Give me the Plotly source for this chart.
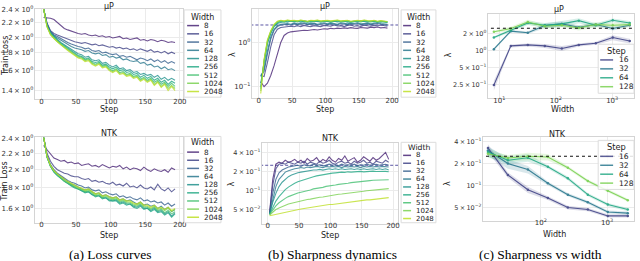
import plotly.graph_objects as go

W, H = 640, 261

# ---------------- data ----------------
STEPS = list(range(3, 198, 5))          # 3, 8, ..., 193
WIDTHS = [8, 16, 32, 64, 128, 256, 512, 1024, 2048]
WIDTH_LABELS = [str(w) for w in WIDTHS]
SWEEP_WIDTHS_MUP = [8, 16, 32, 64, 128, 256, 512, 1024, 2048]
SWEEP_WIDTHS_NTK = [16, 32, 64, 128, 256, 512, 1024, 2048]
STEP_LABELS = ["16", "32", "64", "128"]
REF_MUP = 2.5
REF_NTK = 0.25

LOSS_MUP = [
    [2.28, 2.28, 2.27, 2.25, 2.21, 2.16, 2.12, 2.10, 2.08, 2.06, 2.05, 2.04, 2.05, 2.03, 2.02, 2.03, 2.01, 2.02, 2.00, 2.01,
     1.99, 2.00, 2.01, 1.98, 1.99, 1.97, 1.98, 1.99, 1.96, 1.97, 1.95, 1.97, 1.96, 1.94, 1.96, 1.95, 1.93, 1.94, 1.93],
    [2.42, 2.20, 2.09, 2.05, 2.03, 2.01, 1.99, 1.97, 1.95, 1.94, 1.93, 1.92, 1.93, 1.91, 1.90, 1.91, 1.89, 1.90, 1.88, 1.87,
     1.88, 1.86, 1.87, 1.85, 1.86, 1.84, 1.85, 1.83, 1.85, 1.83, 1.82, 1.84, 1.81, 1.82, 1.80, 1.82, 1.79, 1.81, 1.79],
    [2.42, 2.19, 2.08, 2.03, 2.01, 1.98, 1.96, 1.93, 1.91, 1.89, 1.88, 1.87, 1.85, 1.86, 1.83, 1.82, 1.83, 1.80, 1.81, 1.79,
     1.78, 1.79, 1.76, 1.77, 1.75, 1.76, 1.74, 1.72, 1.74, 1.73, 1.71, 1.73, 1.70, 1.72, 1.69, 1.71, 1.68, 1.70, 1.68],
    [2.42, 2.18, 2.07, 2.02, 1.99, 1.96, 1.93, 1.90, 1.88, 1.86, 1.85, 1.84, 1.82, 1.83, 1.80, 1.79, 1.80, 1.77, 1.78, 1.75,
     1.76, 1.74, 1.75, 1.72, 1.73, 1.71, 1.70, 1.71, 1.68, 1.69, 1.66, 1.67, 1.64, 1.65, 1.62, 1.64, 1.61, 1.62, 1.60],
    [2.42, 2.17, 2.06, 2.01, 1.97, 1.93, 1.90, 1.87, 1.84, 1.82, 1.79, 1.78, 1.75, 1.76, 1.72, 1.71, 1.72, 1.68, 1.69, 1.66,
     1.64, 1.66, 1.62, 1.63, 1.60, 1.61, 1.58, 1.59, 1.56, 1.57, 1.55, 1.56, 1.53, 1.55, 1.51, 1.53, 1.50, 1.52, 1.50],
    [2.42, 2.16, 2.05, 2.00, 1.96, 1.92, 1.89, 1.86, 1.83, 1.80, 1.77, 1.76, 1.73, 1.74, 1.70, 1.69, 1.70, 1.66, 1.67, 1.64,
     1.62, 1.64, 1.60, 1.61, 1.58, 1.59, 1.56, 1.57, 1.53, 1.55, 1.52, 1.54, 1.50, 1.52, 1.48, 1.50, 1.46, 1.49, 1.47],
    [2.42, 2.15, 2.04, 1.99, 1.95, 1.91, 1.88, 1.85, 1.82, 1.79, 1.76, 1.75, 1.72, 1.73, 1.69, 1.67, 1.69, 1.65, 1.66, 1.62,
     1.60, 1.62, 1.58, 1.59, 1.56, 1.57, 1.54, 1.55, 1.51, 1.53, 1.50, 1.52, 1.48, 1.50, 1.46, 1.48, 1.44, 1.47, 1.44],
    [2.42, 2.15, 2.04, 1.98, 1.94, 1.90, 1.87, 1.84, 1.81, 1.78, 1.75, 1.74, 1.71, 1.72, 1.68, 1.66, 1.68, 1.64, 1.65, 1.61,
     1.59, 1.61, 1.57, 1.58, 1.55, 1.56, 1.53, 1.54, 1.50, 1.52, 1.49, 1.51, 1.46, 1.49, 1.44, 1.47, 1.42, 1.45, 1.42],
    [2.42, 2.14, 2.03, 1.98, 1.94, 1.90, 1.86, 1.83, 1.80, 1.77, 1.74, 1.73, 1.70, 1.71, 1.67, 1.65, 1.67, 1.63, 1.64, 1.60,
     1.58, 1.60, 1.56, 1.57, 1.54, 1.55, 1.52, 1.53, 1.49, 1.51, 1.48, 1.50, 1.45, 1.48, 1.43, 1.46, 1.40, 1.44, 1.40],
]

LOSS_NTK = [
    [2.30, 2.25, 2.19, 2.14, 2.12, 2.10, 2.11, 2.08, 2.09, 2.07, 2.08, 2.05, 2.06, 2.07, 2.04, 2.05, 2.03, 2.06, 2.04, 2.02,
     2.04, 2.03, 2.05, 2.01, 2.03, 2.00, 2.02, 2.01, 1.99, 2.03, 2.00, 1.98, 2.01, 1.99, 1.98, 2.00, 1.97, 2.02, 2.00],
    [2.42, 2.20, 2.10, 2.04, 2.00, 1.98, 1.96, 1.95, 1.93, 1.92, 1.92, 1.90, 1.89, 1.90, 1.87, 1.88, 1.86, 1.87, 1.85, 1.84,
     1.86, 1.83, 1.84, 1.82, 1.85, 1.81, 1.82, 1.80, 1.83, 1.80, 1.79, 1.81, 1.78, 1.84, 1.79, 1.77, 1.80, 1.76, 1.79],
    [2.42, 2.17, 2.06, 2.00, 1.96, 1.93, 1.90, 1.88, 1.86, 1.85, 1.83, 1.82, 1.80, 1.81, 1.78, 1.77, 1.78, 1.75, 1.76, 1.74,
     1.73, 1.74, 1.71, 1.72, 1.70, 1.71, 1.69, 1.68, 1.70, 1.67, 1.68, 1.66, 1.67, 1.65, 1.66, 1.63, 1.65, 1.62, 1.64],
    [2.42, 2.16, 2.05, 1.99, 1.95, 1.92, 1.89, 1.86, 1.84, 1.83, 1.81, 1.79, 1.78, 1.79, 1.76, 1.74, 1.75, 1.72, 1.73, 1.71,
     1.70, 1.71, 1.68, 1.69, 1.67, 1.68, 1.66, 1.64, 1.66, 1.63, 1.64, 1.62, 1.63, 1.60, 1.62, 1.59, 1.61, 1.57, 1.59],
    [2.42, 2.15, 2.04, 1.98, 1.94, 1.90, 1.87, 1.85, 1.83, 1.81, 1.79, 1.77, 1.76, 1.76, 1.73, 1.72, 1.72, 1.70, 1.70, 1.68,
     1.67, 1.68, 1.65, 1.66, 1.64, 1.64, 1.62, 1.61, 1.63, 1.60, 1.60, 1.58, 1.60, 1.57, 1.58, 1.55, 1.57, 1.53, 1.56],
    [2.42, 2.15, 2.04, 1.97, 1.93, 1.90, 1.87, 1.84, 1.82, 1.80, 1.79, 1.77, 1.75, 1.76, 1.73, 1.71, 1.72, 1.69, 1.70, 1.67,
     1.67, 1.67, 1.64, 1.65, 1.63, 1.64, 1.61, 1.60, 1.62, 1.59, 1.60, 1.57, 1.59, 1.56, 1.57, 1.54, 1.56, 1.52, 1.55],
    [2.42, 2.15, 2.04, 1.98, 1.94, 1.90, 1.87, 1.85, 1.83, 1.81, 1.79, 1.78, 1.76, 1.77, 1.74, 1.72, 1.73, 1.70, 1.71, 1.69,
     1.68, 1.69, 1.66, 1.67, 1.65, 1.65, 1.63, 1.62, 1.64, 1.61, 1.61, 1.59, 1.61, 1.58, 1.59, 1.56, 1.58, 1.55, 1.57],
    [2.42, 2.16, 2.05, 1.99, 1.95, 1.91, 1.88, 1.86, 1.84, 1.82, 1.80, 1.79, 1.77, 1.78, 1.75, 1.73, 1.74, 1.71, 1.72, 1.70,
     1.69, 1.70, 1.67, 1.68, 1.66, 1.66, 1.64, 1.63, 1.65, 1.62, 1.62, 1.60, 1.62, 1.59, 1.60, 1.58, 1.60, 1.57, 1.59],
    [2.42, 2.16, 2.05, 1.99, 1.95, 1.92, 1.89, 1.87, 1.85, 1.83, 1.81, 1.80, 1.78, 1.79, 1.76, 1.74, 1.75, 1.72, 1.73, 1.71,
     1.70, 1.71, 1.68, 1.69, 1.67, 1.67, 1.65, 1.64, 1.66, 1.63, 1.63, 1.61, 1.63, 1.60, 1.61, 1.59, 1.61, 1.58, 1.60],
]

SHARP_MUP = [
    [0.13, 0.10, 0.12, 0.18, 0.30, 0.55, 1.00, 1.45, 1.65, 1.75, 1.80, 1.78, 1.85, 1.90, 1.88, 1.95, 1.98, 1.93, 2.00, 2.05,
     2.02, 2.10, 2.05, 2.12, 2.08, 2.15, 2.10, 2.18, 2.12, 2.10, 2.20, 2.15, 2.12, 2.22, 2.18, 2.25, 2.15, 2.20, 2.12],
    [0.18, 0.17, 0.35, 0.80, 1.50, 2.00, 2.20, 2.25, 2.30, 2.35, 2.28, 2.40, 2.30, 2.45, 2.35, 2.30, 2.42, 2.38, 2.30, 2.45,
     2.40, 2.35, 2.50, 2.38, 2.42, 2.30, 2.45, 2.50, 2.35, 2.40, 2.32, 2.48, 2.40, 2.35, 2.45, 2.38, 2.50, 2.40, 2.35],
    [0.18, 0.22, 0.55, 1.20, 1.90, 2.30, 2.50, 2.55, 2.60, 2.50, 2.65, 2.55, 2.60, 2.70, 2.55, 2.60, 2.65, 2.50, 2.60, 2.70,
     2.55, 2.65, 2.60, 2.50, 2.70, 2.60, 2.55, 2.65, 2.60, 2.70, 2.55, 2.60, 2.65, 2.55, 2.60, 2.70, 2.60, 2.55, 2.50],
    [0.17, 0.25, 0.65, 1.35, 2.00, 2.40, 2.60, 2.65, 2.70, 2.60, 2.75, 2.65, 2.70, 2.80, 2.65, 2.70, 2.75, 2.60, 2.70, 2.80,
     2.65, 2.75, 2.70, 2.60, 2.80, 2.70, 2.65, 2.75, 2.70, 2.80, 2.65, 2.70, 2.75, 2.65, 2.70, 2.80, 2.70, 2.65, 2.60],
    [0.12, 0.35, 0.95, 1.60, 2.30, 2.70, 2.90, 3.00, 2.90, 3.10, 2.95, 3.05, 2.90, 3.10, 3.00, 2.90, 3.05, 3.00, 2.95, 3.10,
     3.00, 2.90, 3.05, 2.95, 3.00, 3.10, 2.90, 3.00, 3.05, 2.95, 3.10, 3.00, 2.90, 3.05, 2.95, 3.00, 2.90, 3.00, 2.90],
    [0.10, 0.37, 1.00, 1.70, 2.40, 2.80, 3.00, 2.90, 3.10, 3.00, 3.05, 2.95, 3.10, 3.00, 2.90, 3.05, 3.00, 3.10, 2.95, 3.00,
     3.05, 2.95, 3.00, 3.10, 2.95, 3.00, 3.05, 2.90, 3.00, 3.05, 2.95, 3.10, 3.00, 2.95, 3.05, 2.90, 3.00, 2.95, 2.85],
    [0.09, 0.38, 1.05, 1.75, 2.45, 2.90, 3.10, 3.00, 3.15, 3.05, 3.10, 3.00, 3.15, 3.05, 2.95, 3.10, 3.05, 3.15, 3.00, 3.05,
     3.10, 3.00, 3.05, 3.15, 3.00, 3.05, 3.10, 2.95, 3.05, 3.10, 3.00, 3.15, 3.05, 3.00, 3.10, 2.95, 3.05, 3.00, 2.90],
    [0.08, 0.40, 1.10, 1.80, 2.50, 3.00, 3.15, 3.05, 3.20, 3.10, 3.15, 3.05, 3.20, 3.10, 3.00, 3.15, 3.10, 3.20, 3.05, 3.10,
     3.15, 3.05, 3.10, 3.20, 3.05, 3.10, 3.15, 3.00, 3.10, 3.15, 3.05, 3.20, 3.10, 3.05, 3.15, 3.00, 3.10, 3.05, 2.95],
    [0.07, 0.42, 1.15, 1.85, 2.60, 3.05, 3.20, 3.10, 3.25, 3.15, 3.20, 3.10, 3.25, 3.15, 3.05, 3.20, 3.15, 3.25, 3.10, 3.15,
     3.20, 3.10, 3.15, 3.25, 3.10, 3.15, 3.20, 3.05, 3.15, 3.20, 3.10, 3.25, 3.15, 3.10, 3.20, 3.05, 3.15, 3.10, 3.00],
]

SHARP_NTK = [
    [0.045, 0.15, 0.26, 0.28, 0.27, 0.30, 0.28, 0.29, 0.31, 0.28, 0.30, 0.27, 0.32, 0.29, 0.30, 0.33, 0.28, 0.31, 0.29, 0.34,
     0.30, 0.28, 0.32, 0.30, 0.35, 0.29, 0.31, 0.33, 0.28, 0.30, 0.34, 0.31, 0.29, 0.33, 0.30, 0.32, 0.36, 0.40, 0.31],
    [0.045, 0.12, 0.22, 0.26, 0.27, 0.26, 0.28, 0.27, 0.26, 0.28, 0.27, 0.29, 0.26, 0.28, 0.27, 0.26, 0.29, 0.27, 0.28, 0.30,
     0.27, 0.26, 0.28, 0.29, 0.27, 0.28, 0.26, 0.29, 0.27, 0.28, 0.30, 0.27, 0.28, 0.26, 0.29, 0.28, 0.27, 0.30, 0.28],
    [0.043, 0.09, 0.15, 0.19, 0.21, 0.225, 0.235, 0.24, 0.245, 0.25, 0.24, 0.255, 0.25, 0.245, 0.26, 0.25, 0.255, 0.245, 0.25, 0.26,
     0.25, 0.255, 0.245, 0.26, 0.25, 0.255, 0.25, 0.26, 0.245, 0.255, 0.25, 0.26, 0.25, 0.255, 0.26, 0.25, 0.255, 0.26, 0.25],
    [0.043, 0.075, 0.115, 0.15, 0.175, 0.195, 0.205, 0.215, 0.22, 0.225, 0.23, 0.225, 0.235, 0.23, 0.235, 0.24, 0.235, 0.23, 0.24, 0.235,
     0.24, 0.235, 0.24, 0.23, 0.24, 0.235, 0.24, 0.235, 0.24, 0.23, 0.24, 0.235, 0.24, 0.235, 0.24, 0.235, 0.24, 0.235, 0.235],
    [0.042, 0.065, 0.09, 0.115, 0.135, 0.15, 0.165, 0.175, 0.185, 0.19, 0.195, 0.20, 0.205, 0.205, 0.21, 0.21, 0.215, 0.21, 0.215, 0.22,
     0.215, 0.22, 0.215, 0.22, 0.215, 0.22, 0.22, 0.215, 0.22, 0.215, 0.22, 0.215, 0.22, 0.22, 0.215, 0.22, 0.215, 0.22, 0.21],
    [0.042, 0.055, 0.068, 0.08, 0.092, 0.103, 0.113, 0.122, 0.13, 0.137, 0.143, 0.148, 0.155, 0.16, 0.165, 0.17, 0.174, 0.178, 0.182, 0.185,
     0.188, 0.19, 0.193, 0.195, 0.193, 0.197, 0.195, 0.198, 0.196, 0.2, 0.197, 0.2, 0.198, 0.202, 0.199, 0.2, 0.203, 0.2, 0.198],
    [0.042, 0.05, 0.057, 0.064, 0.07, 0.075, 0.08, 0.084, 0.088, 0.091, 0.094, 0.096, 0.1, 0.102, 0.106, 0.107, 0.111, 0.112, 0.116, 0.117,
     0.12, 0.122, 0.125, 0.126, 0.129, 0.13, 0.133, 0.134, 0.137, 0.138, 0.14, 0.142, 0.143, 0.145, 0.146, 0.146, 0.148, 0.149, 0.148],
    [0.041, 0.046, 0.05, 0.053, 0.056, 0.059, 0.061, 0.063, 0.065, 0.067, 0.068, 0.07, 0.072, 0.073, 0.075, 0.076, 0.078, 0.079, 0.081, 0.082,
     0.084, 0.085, 0.087, 0.088, 0.089, 0.091, 0.092, 0.093, 0.095, 0.096, 0.097, 0.099, 0.1, 0.102, 0.103, 0.104, 0.106, 0.107, 0.107],
    [0.04, 0.041, 0.043, 0.044, 0.045, 0.046, 0.047, 0.048, 0.049, 0.05, 0.051, 0.052, 0.053, 0.054, 0.055, 0.056, 0.057, 0.058, 0.059, 0.06,
     0.06, 0.061, 0.062, 0.063, 0.064, 0.065, 0.066, 0.067, 0.068, 0.069, 0.07, 0.071, 0.071, 0.072, 0.073, 0.074, 0.075, 0.076, 0.077],
]

# sharpness vs width (one list per step), with relative CI half-widths
SWEEP_MUP = [
    [0.248, 1.22, 1.27, 1.22, 1.10, 1.27, 1.36, 1.71, 1.49],
    [1.07, 2.22, 2.08, 2.78, 2.98, 2.60, 2.90, 2.47, 2.82],
    [1.71, 2.28, 3.10, 2.82, 2.98, 3.40, 2.82, 3.45, 3.10],
    [2.16, 2.47, 3.22, 2.71, 2.82, 2.54, 2.90, 2.82, 2.90],
]
SWEEP_MUP_ERR = [
    [0.20, 0.06, 0.06, 0.08, 0.10, 0.06, 0.06, 0.10, 0.10],
    [0.05, 0.05, 0.05, 0.10, 0.10, 0.08, 0.08, 0.08, 0.06],
    [0.05, 0.06, 0.08, 0.10, 0.12, 0.10, 0.08, 0.08, 0.08],
    [0.05, 0.08, 0.10, 0.08, 0.08, 0.10, 0.10, 0.10, 0.10],
]
SWEEP_NTK = [
    [0.325, 0.139, 0.0876, 0.0676, 0.050, 0.047, 0.0385, 0.0385],
    [0.300, 0.199, 0.165, 0.107, 0.075, 0.059, 0.0436, 0.042],
    [0.285, 0.221, 0.239, 0.180, 0.125, 0.075, 0.055, 0.047],
    [0.270, 0.237, 0.250, 0.244, 0.175, 0.115, 0.085, 0.063],
]
SWEEP_NTK_ERR = [
    [0.12, 0.08, 0.10, 0.06, 0.06, 0.05, 0.05, 0.05],
    [0.15, 0.15, 0.12, 0.06, 0.05, 0.05, 0.05, 0.05],
    [0.15, 0.12, 0.12, 0.06, 0.06, 0.05, 0.05, 0.05],
    [0.10, 0.10, 0.12, 0.10, 0.05, 0.05, 0.05, 0.05],
]

COLORS_W = ['#482475', '#414487', '#355f8d', '#2a788e', '#21918c', '#22a884', '#44bf70', '#7ad151', '#bddf26']
COLORS_S = ['#414487', '#2a788e', '#22a884', '#7ad151']

# ---------------- helpers ----------------
def hx(p):
    return p / W

def hy(p):
    return 1 - p / H

def rgba(hexc, a):
    h = hexc.lstrip('#')
    return 'rgba(%d,%d,%d,%s)' % (int(h[0:2], 16), int(h[2:4], 16), int(h[4:6], 16), a)

def axis(xpx, rng, typ, tickvals, ticktext, anchor, horizontal=True, fsize=7):
    dom = [hx(xpx[0]), hx(xpx[1])] if horizontal else [hy(xpx[1]), hy(xpx[0])]
    return dict(domain=dom, range=rng, type=typ, tickvals=tickvals, ticktext=ticktext,
                showgrid=True, gridcolor='#ebebeb', gridwidth=1, zeroline=False,
                showline=True, linecolor='#d4d4d4', linewidth=1, mirror=True,
                ticks='', tickfont=dict(family='DejaVu Sans', size=fsize, color='#333333'),
                ticklabelstandoff=(-5 if horizontal else -1),
                anchor=anchor, fixedrange=True)

def sup(m, e):
    e = str(e).replace('-', '\u2212')
    return ('%s\u2009\u00d7\u200910<sup>%s</sup>' % (m, e)) if m else ('10<sup>%s</sup>' % e)

fig = go.Figure()

# ---- panels (a), (b): per-step curves ----
panels_steps = [
    ('x', 'y', LOSS_MUP), ('x2', 'y2', LOSS_NTK),
    ('x3', 'y3', SHARP_MUP), ('x4', 'y4', SHARP_NTK),
]
for xa, ya, series in panels_steps:
    if xa in ('x3', 'x4'):
        ref = REF_MUP if xa == 'x3' else REF_NTK
        fig.add_trace(go.Scatter(x=[-20, 230], y=[ref, ref], mode='lines', xaxis=xa, yaxis=ya,
                                 line=dict(color='#5a55a3', width=1, dash='3px,2px'), showlegend=False, hoverinfo='skip'))
    for i, vals in enumerate(series):
        fig.add_trace(go.Scatter(x=STEPS, y=vals, mode='lines', xaxis=xa, yaxis=ya,
                                 line=dict(color=COLORS_W[i], width=1.1), opacity=0.8,
                                 showlegend=False, hoverinfo='skip'))

# ---- panel (c): sharpness vs width ----
for xa, ya, widths, series, errs, ref in [
    ('x5', 'y5', SWEEP_WIDTHS_MUP, SWEEP_MUP, SWEEP_MUP_ERR, REF_MUP),
    ('x6', 'y6', SWEEP_WIDTHS_NTK, SWEEP_NTK, SWEEP_NTK_ERR, REF_NTK),
]:
    for i, vals in enumerate(series):
        up = [v * (1 + e) for v, e in zip(vals, errs[i])]
        lo = [v * (1 - e) for v, e in zip(vals, errs[i])]
        fig.add_trace(go.Scatter(x=widths + widths[::-1], y=up + lo[::-1], mode='lines', fill='toself',
                                 fillcolor=rgba(COLORS_S[i], 0.18), line=dict(width=0), xaxis=xa, yaxis=ya,
                                 showlegend=False, hoverinfo='skip'))
    for i, vals in enumerate(series):
        fig.add_trace(go.Scatter(x=widths, y=vals, mode='lines+markers', xaxis=xa, yaxis=ya,
                                 line=dict(color=COLORS_S[i], width=1.1), marker=dict(size=2.5, color=COLORS_S[i]),
                                 opacity=0.9, showlegend=False, hoverinfo='skip'))
    fig.add_trace(go.Scatter(x=[1, 10000], y=[ref, ref], mode='lines', xaxis=xa, yaxis=ya,
                             line=dict(color='#111111', width=1.1, dash='dot'), showlegend=False, hoverinfo='skip'))

STEP_TICKS = [0, 50, 100, 150, 200]
STEP_TEXT = ['0', '50', '100', '150', '200']
LOSS_TICKS_TOP = [1.4, 1.6, 1.8, 2.0, 2.2, 2.4]
LOSS_TEXT_TOP = [sup('1.4', 0), sup('1.6', 0), sup('1.8', 0), sup('2', 0), sup('2.2', 0), sup('2.4', 0)]
LOSS_TICKS_BOT = [1.6, 1.8, 2.0, 2.2, 2.4]
LOSS_TEXT_BOT = [sup('1.6', 0), sup('1.8', 0), sup('2', 0), sup('2.2', 0), sup('2.4', 0)]
SH_MUP_TICKS = [0.1, 1]
SH_MUP_TEXT = [sup('', -1), sup('', 0)]
SH_NTK_TICKS = [0.05, 0.1, 0.2, 0.4]
SH_NTK_TEXT = [sup('5', -2), sup('', -1), sup('2', -1), sup('4', -1)]
SW_MUP_TICKS = [0.25, 0.5, 1, 2]
SW_MUP_TEXT = [sup('2.5', -1), sup('5', -1), sup('', 0), sup('2', 0)]
W_TICKS = [10, 100, 1000]
W_TEXT = [sup('', 1), sup('', 2), sup('', 3)]

fig.update_layout(
    width=W, height=H, margin=dict(l=0, r=0, t=0, b=0),
    paper_bgcolor='white', plot_bgcolor='white', showlegend=False,
    xaxis=axis([35, 184], [-9.6, 204.7], 'linear', STEP_TICKS, STEP_TEXT, 'y'),
    yaxis=axis([4, 96], [0.1214, 0.3830], 'log', LOSS_TICKS_TOP, LOSS_TEXT_TOP, 'x', False),
    xaxis2=axis([35, 184], [-9.6, 204.7], 'linear', STEP_TICKS, STEP_TEXT, 'y2'),
    yaxis2=axis([135, 222], [0.168, 0.382], 'log', LOSS_TICKS_BOT, LOSS_TEXT_BOT, 'x2', False),
    xaxis3=axis([253, 400], [-10.4, 209], 'linear', STEP_TICKS, STEP_TEXT, 'y3'),
    yaxis3=axis([4, 95], [-1.26, 0.762], 'log', SH_MUP_TICKS, SH_MUP_TEXT, 'x3', False),
    xaxis4=axis([263, 400], [-9.5, 208], 'linear', STEP_TICKS, STEP_TEXT, 'y4'),
    yaxis4=axis([141, 223], [-1.525, -0.255], 'log', SH_NTK_TICKS, SH_NTK_TEXT, 'x4', False, 6.5),
    xaxis5=axis([490, 637], [0.794, 3.387], 'log', W_TICKS, W_TEXT, 'y5'),
    yaxis5=axis([9, 95], [-0.836, 0.652], 'log', SW_MUP_TICKS, SW_MUP_TEXT, 'x5', False, 6.5),
    xaxis6=axis([485, 637], [1.126, 3.405], 'log', W_TICKS, W_TEXT, 'y6'),
    yaxis6=axis([135, 220], [-1.481, -0.345], 'log', SH_NTK_TICKS, SH_NTK_TEXT, 'x6', False, 6.5),
)

annotations = []
shapes = []

def text(x, y, s, size=8, family='DejaVu Sans', angle=0, xanchor='center', color='#222222'):
    annotations.append(dict(x=hx(x), y=hy(y), xref='paper', yref='paper', text=s, showarrow=False,
                            xanchor=xanchor, yanchor='middle', textangle=angle,
                            font=dict(family=family, size=size, color=color)))

# panel titles
text(110, 1.5, '\u03bcP')
text(327, 2, '\u03bcP')
text(562, 5, '\u03bcP')
text(110, 131.5, 'NTK')
text(332, 136.5, 'NTK')
text(560, 132.5, 'NTK')
# axis labels
text(5, 52, 'Train Loss', angle=-90)
text(5, 180, 'Train Loss', angle=-90)
text(233, 50, '\u03bb', angle=-90)
text(233, 182, '\u03bb', angle=-90)
text(450.5, 51, '\u03bb', angle=-90)
text(449.5, 182, '\u03bb', angle=-90)
text(110, 107, 'Step')
text(327, 107, 'Step')
text(110, 235, 'Step')
text(332, 235.5, 'Step')
text(565, 107, 'Width')
text(557, 234, 'Width')
# captions
CAPTIONS = ['(a) Loss curves', '(b) Sharpness dynamics', '(c) Sharpness vs width']
for cx, cap in zip([110.5, 334, 543], CAPTIONS):
    text(cx, 254, cap, size=13.5, family='Liberation Serif', color='#000000')

def legend(box, title, title_y, labels, colors, y0, dy, lx, tx, fsize=7.3):
    shapes.append(dict(type='rect', xref='paper', yref='paper', x0=hx(box[0]), x1=hx(box[1]),
                       y0=hy(box[3]), y1=hy(box[2]), line=dict(color='#dcdcdc', width=1),
                       fillcolor='rgba(255,255,255,0.85)', layer='above'))
    text((box[0] + box[1]) / 2, title_y, title, size=fsize + 0.7)
    for i, (lab, col) in enumerate(zip(labels, colors)):
        yy = y0 + i * dy
        shapes.append(dict(type='line', xref='paper', yref='paper', x0=hx(lx[0]), x1=hx(lx[1]),
                           y0=hy(yy), y1=hy(yy), line=dict(color=rgba(col, 0.85), width=1.5), layer='above'))
        text(tx, yy, lab, size=fsize, xanchor='left')

legend([185, 222, 5, 94], 'Width', 12.7, WIDTH_LABELS, COLORS_W, 21, 8.4, [188, 200], 203)
legend([185, 222, 134, 222], 'Width', 140.5, WIDTH_LABELS, COLORS_W, 150, 8.3, [188, 200], 203)
legend([403, 438, 5, 94], 'Width', 12.7, WIDTH_LABELS, COLORS_W, 21, 8.4, [405, 413], 415.5)
legend([403, 438, 140, 222], 'Width', 145, WIDTH_LABELS, COLORS_W, 153.3, 8.05, [405, 413], 415.5, fsize=7.0)
legend([601, 637, 40, 90], 'Step', 46.7, STEP_LABELS, COLORS_S, 56, 9.1, [603, 616], 620, fsize=7.6)
legend([601, 637, 138, 188], 'Step', 145, STEP_LABELS, COLORS_S, 154.3, 9.1, [603, 616], 620, fsize=7.6)

fig.update_layout(annotations=annotations, shapes=shapes)
fig.write_html('out.html', config={'displayModeBar': False, 'staticPlot': True},
               post_script="document.body.style.margin='0';document.body.style.overflow='hidden';")
